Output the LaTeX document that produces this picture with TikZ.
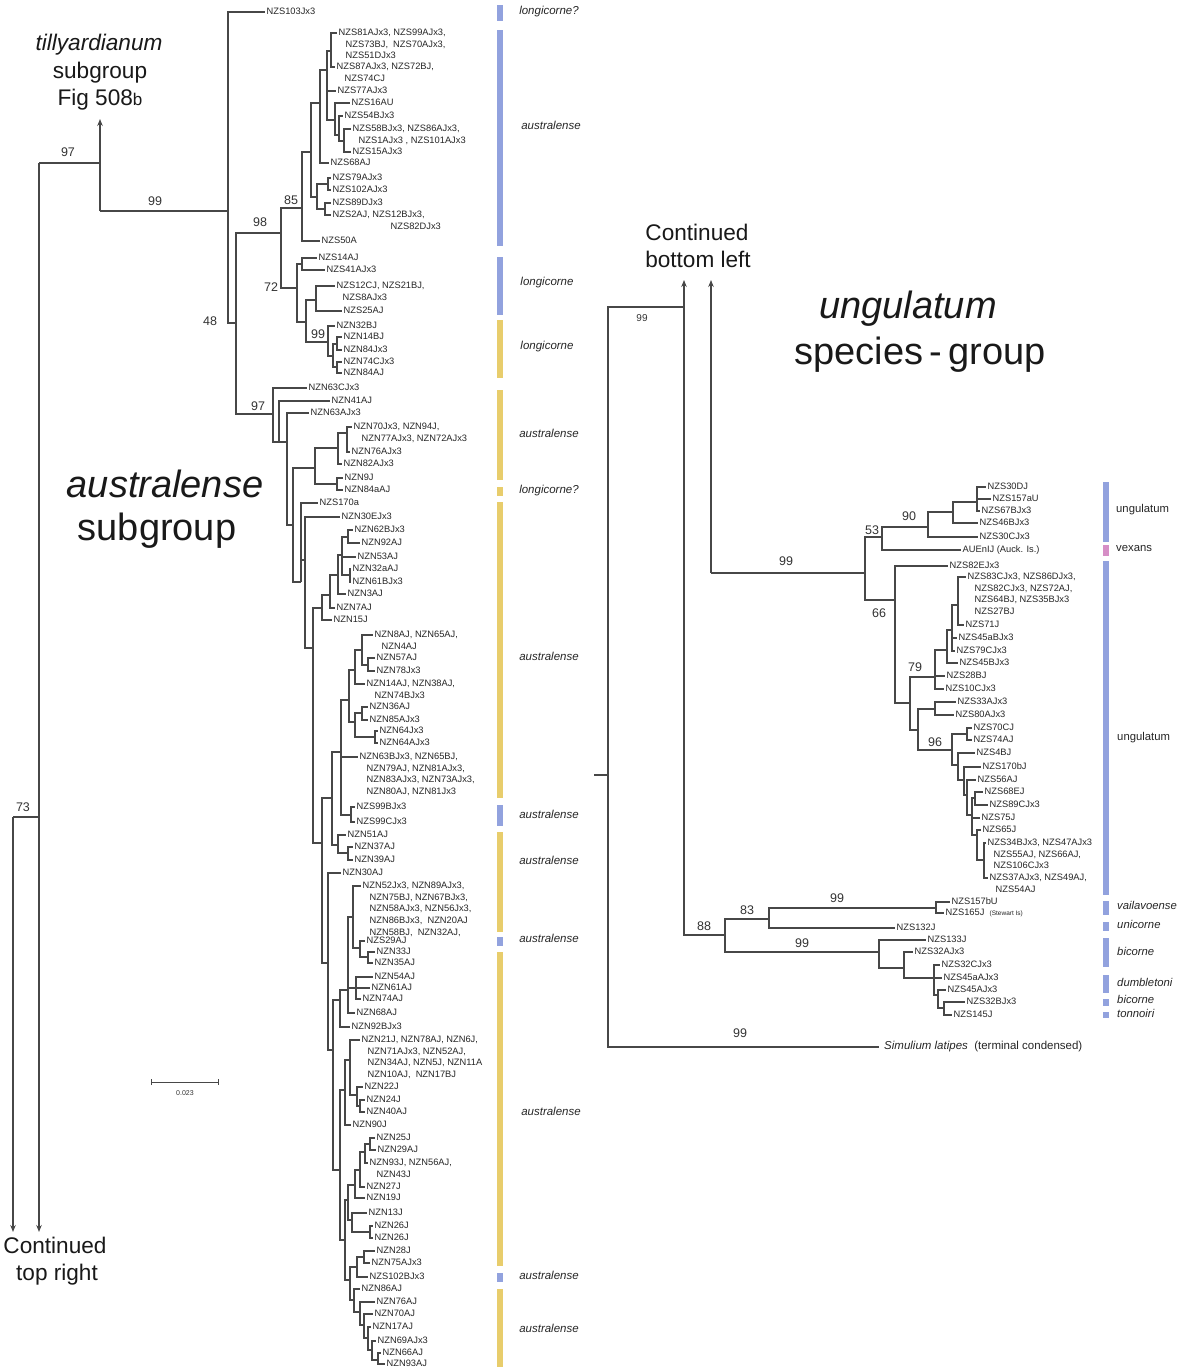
\documentclass[tikz,border=0pt]{standalone}
\usepackage{fontspec}
\setmainfont{Liberation Sans}
\usetikzlibrary{arrows.meta}
\definecolor{barblue}{RGB}{146,162,222}
\definecolor{baryel}{RGB}{232,205,108}
\definecolor{barpink}{RGB}{214,142,198}
\newcommand{\lns}[1]{\begin{tabular}[t]{@{}l@{}}#1\end{tabular}}

\begin{document}
\begin{tikzpicture}[x=1pt,y=-1pt,
    br/.style={draw=black!72,line width=1.2pt},
    cont/.style={br,-{Stealth[length=7pt,width=5.5pt]}},
    taxon/.style={anchor=mid west,inner xsep=1.5pt,inner ysep=0pt,text=black!85,font=\fontsize{9.3}{11.6}\selectfont},
    boot/.style={text=black!80,font=\fontsize{12.5}{14}\selectfont},
    clab/.style={anchor=mid,text=black!85,font=\fontsize{11.5}{13}\selectfont\itshape},
    rlab/.style={anchor=mid west,inner xsep=0pt,text=black!85,font=\fontsize{11.3}{13}\selectfont},
    medtxt/.style={anchor=base,inner sep=0pt,text=black!90,font=\fontsize{22.6}{27}\selectfont},
    bigtxt/.style={anchor=base,inner sep=0pt,text=black!90,font=\fontsize{38}{44}\selectfont}]
\fill[white] (0,0) rectangle (1189,1367);
\useasboundingbox (0,0) rectangle (1189,1367);

% ---- internal nodes, left tree
\coordinate (r97) at (39,163);
\coordinate (r73) at (13,817);
\coordinate (s73) at (39,817);
\coordinate (cL) at (13,1232);
\coordinate (cR) at (39,1232);
\coordinate (t97) at (100,163);
\coordinate (t99) at (100,211);
\coordinate (tup) at (100,119);
\coordinate (nA) at (228,211);
\coordinate (n48) at (236,323);
\coordinate (n98) at (281,233);
\coordinate (n85) at (302,208);
\coordinate (nB) at (311,152);
\coordinate (nC) at (320,103);
\coordinate (nF) at (327,70);
\coordinate (nE) at (331,51);
\coordinate (nG) at (335,120);
\coordinate (nH) at (339,135);
\coordinate (nI) at (344,141);
\coordinate (nJ) at (317,197);
\coordinate (nK) at (328,184);
\coordinate (nL) at (325,209);
\coordinate (n72) at (297,288);
\coordinate (nM) at (302,264);
\coordinate (nN) at (306,322);
\coordinate (nO) at (316,300);
\coordinate (n99) at (328,342);
\coordinate (nP) at (333,356);
\coordinate (nQ) at (337,344);
\coordinate (nR) at (337,367);
\coordinate (n97b) at (273,414);
\coordinate (nS) at (279,442);
\coordinate (nT) at (287,442);
\coordinate (nV) at (293,525);
\coordinate (nW) at (315,468);
\coordinate (nX) at (338,448);
\coordinate (nZ) at (347,433);
\coordinate (nY) at (337,484);
\coordinate (nV2) at (301,582);
\coordinate (nV3) at (305,560);
\coordinate (na7) at (313,648);
\coordinate (na6) at (322,608);
\coordinate (na5) at (330,595);
\coordinate (na4) at (338,575);
\coordinate (na3) at (342,555);
\coordinate (na1) at (348,537);
\coordinate (na2) at (350,575);
\coordinate (nc6) at (322,843);
\coordinate (nc5) at (332,798);
\coordinate (nb9) at (341,752);
\coordinate (nb7) at (349,700);
\coordinate (nb3) at (355,670);
\coordinate (nb2) at (362,650);
\coordinate (nb1) at (368,665);
\coordinate (nb6) at (355,722);
\coordinate (nb4) at (362,713);
\coordinate (nb5) at (375,737);
\coordinate (nc1) at (351,815);
\coordinate (nc4) at (338,845);
\coordinate (nc3) at (348,853);
\coordinate (nc7) at (328,963);
\coordinate (nc8) at (333,1050);
\coordinate (nd7) at (340,1000);
\coordinate (nd6) at (348,990);
\coordinate (nd3) at (353,917);
\coordinate (nd2) at (360,948);
\coordinate (nd1) at (368,957);
\coordinate (nd5) at (356,988);
\coordinate (nm2) at (340,1170);
\coordinate (ne4) at (345,1090);
\coordinate (ne3) at (350,1060);
\coordinate (ne2) at (357,1095);
\coordinate (ne1) at (360,1106);
\coordinate (nm1) at (345,1240);
\coordinate (nf5) at (348,1200);
\coordinate (nf4) at (355,1185);
\coordinate (nf3) at (360,1170);
\coordinate (nf2) at (365,1152);
\coordinate (nf1) at (370,1144);
\coordinate (ng2) at (352,1220);
\coordinate (ng1) at (370,1232);
\coordinate (nl1) at (350,1280);
\coordinate (nh2) at (357,1267);
\coordinate (nh1) at (364,1257);
\coordinate (nk6) at (354,1300);
\coordinate (nk5) at (360,1312);
\coordinate (nk4) at (364,1325);
\coordinate (nk3) at (368,1338);
\coordinate (nk2) at (372,1350);
\coordinate (nk1) at (378,1360);

% ---- internal nodes, right tree
\coordinate (q0) at (594,775);
\coordinate (q1) at (608,775);
\coordinate (q99) at (684,307);
\coordinate (qA) at (684,280);
\coordinate (qs) at (711,573);
\coordinate (qB) at (711,280);
\coordinate (u99) at (865,573);
\coordinate (u53) at (882,537);
\coordinate (u90) at (928,527);
\coordinate (ue1) at (953,512);
\coordinate (ue2) at (977,502);
\coordinate (u66) at (895,600);
\coordinate (uf1) at (910,703);
\coordinate (u79) at (935,677);
\coordinate (ug3) at (947,650);
\coordinate (ug2) at (952,630);
\coordinate (ug1) at (958,605);
\coordinate (uh1) at (918,730);
\coordinate (uh2) at (935,709);
\coordinate (u96) at (952,750);
\coordinate (uh3) at (967,734);
\coordinate (uh4) at (958,765);
\coordinate (uh5) at (964,780);
\coordinate (uh6) at (967,795);
\coordinate (uh7) at (972,815);
\coordinate (uh8) at (975,798);
\coordinate (uh9) at (977,835);
\coordinate (uh10) at (984,860);
\coordinate (q88) at (725,935);
\coordinate (q83) at (769,919);
\coordinate (q99d) at (936,908);
\coordinate (q99c) at (879,952);
\coordinate (qi1) at (904,968);
\coordinate (qi2) at (934,978);
\coordinate (qi3) at (938,995);
\coordinate (qi4) at (944,1008);

% ---- backbone and continuation arrows
\draw[cont] (r97) -- (cR);
\draw[cont] (r73) -- (cL);
\draw[br] (r73) -- (s73);
\draw[br] (r97) -- (t97);
\draw[cont] (t99) -- (tup);
\draw[br] (t99) -- (nA);

% ---- taxa, top NZS group
\node[taxon] (s103) at (265,12) {NZS103Jx3};
\node[taxon] (s81) at (337,33) {\lns{NZS81AJx3, NZS99AJx3,\\\hspace*{7pt}NZS73BJ, \ NZS70AJx3,\\\hspace*{7pt}NZS51DJx3}};
\node[taxon] (s87) at (335,67) {\lns{NZS87AJx3, NZS72BJ,\\\hspace*{8pt}NZS74CJ}};
\node[taxon] (s77) at (336,91) {NZS77AJx3};
\node[taxon] (s16) at (350,103) {NZS16AU};
\node[taxon] (s54) at (343,116) {NZS54BJx3};
\node[taxon] (s58) at (351,129) {\lns{NZS58BJx3, NZS86AJx3,\\\hspace*{6pt}NZS1AJx3 , NZS101AJx3}};
\node[taxon] (s15) at (351,152) {NZS15AJx3};
\node[taxon] (s68) at (329,163) {NZS68AJ};
\node[taxon] (s79) at (331,178) {NZS79AJx3};
\node[taxon] (s102) at (331,190) {NZS102AJx3};
\node[taxon] (s89) at (331,203) {NZS89DJx3};
\node[taxon] (s2) at (331,215) {\lns{NZS2AJ, NZS12BJx3,\\\hspace*{58pt}NZS82DJx3}};
\node[taxon] (s50) at (320,241) {NZS50A};
\node[taxon] (s14) at (317,258) {NZS14AJ};
\node[taxon] (s41) at (325,270) {NZS41AJx3};
\node[taxon] (s12) at (335,286) {\lns{NZS12CJ, NZS21BJ,\\\hspace*{6pt}NZS8AJx3}};
\node[taxon] (s25) at (342,311) {NZS25AJ};
\node[taxon] (z32b) at (335,326) {NZN32BJ};
\node[taxon] (z14b) at (342,337) {NZN14BJ};
\node[taxon] (z84) at (342,350) {NZN84Jx3};
\node[taxon] (z74c) at (342,362) {NZN74CJx3};
\node[taxon] (z84a) at (342,373) {NZN84AJ};

\draw[br] (nA) |- (s103.mid west) (nA) |- (n48);
\draw[br] (n48) |- (n98) (n48) |- (n97b);
\draw[br] (n98) |- (n85) (n98) |- (n72);
\draw[br] (n85) |- (nB) (n85) |- (s50.mid west);
\draw[br] (nB) |- (nC) (nB) |- (nJ);
\draw[br] (nC) |- (nF) (nC) |- (s68.mid west);
\draw[br] (nF) |- (nE) (nF) |- (s77.mid west) (nF) |- (nG);
\draw[br] (nE) |- (s81.mid west) (nE) |- (s87.mid west);
\draw[br] (nG) |- (s16.mid west) (nG) |- (nH);
\draw[br] (nH) |- (s54.mid west) (nH) |- (nI);
\draw[br] (nI) |- (s58.mid west) (nI) |- (s15.mid west);
\draw[br] (nJ) |- (nK) (nJ) |- (nL);
\draw[br] (nK) |- (s79.mid west) (nK) |- (s102.mid west);
\draw[br] (nL) |- (s89.mid west) (nL) |- (s2.mid west);
\draw[br] (n72) |- (nM) (n72) |- (nN);
\draw[br] (nM) |- (s14.mid west) (nM) |- (s41.mid west);
\draw[br] (nN) |- (nO) (nN) |- (n99);
\draw[br] (nO) |- (s12.mid west) (nO) |- (s25.mid west);
\draw[br] (n99) |- (z32b.mid west) (n99) |- (nP);
\draw[br] (nP) |- (nQ) (nP) |- (nR);
\draw[br] (nQ) |- (z14b.mid west) (nQ) |- (z84.mid west);
\draw[br] (nR) |- (z74c.mid west) (nR) |- (z84a.mid west);

% ---- taxa, NZN group
\node[taxon] (z63c) at (307,388) {NZN63CJx3};
\node[taxon] (z41) at (330,401) {NZN41AJ};
\node[taxon] (z63a) at (309,413) {NZN63AJx3};
\node[taxon] (z70) at (352,427) {\lns{NZN70Jx3, NZN94J,\\\hspace*{8pt}NZN77AJx3, NZN72AJx3}};
\node[taxon] (z76) at (350,452) {NZN76AJx3};
\node[taxon] (z82) at (342,464) {NZN82AJx3};
\node[taxon] (z9) at (343,478) {NZN9J};
\node[taxon] (z84b) at (343,490) {NZN84aAJ};
\node[taxon] (s170a) at (318,503) {NZS170a};
\node[taxon] (z30e) at (340,517) {NZN30EJx3};
\node[taxon] (z62b) at (353,530) {NZN62BJx3};
\node[taxon] (z92) at (360,543) {NZN92AJ};
\node[taxon] (z53) at (356,557) {NZN53AJ};
\node[taxon] (z32a) at (351,569) {NZN32aAJ};
\node[taxon] (z61b) at (351,582) {NZN61BJx3};
\node[taxon] (z3) at (346,594) {NZN3AJ};
\node[taxon] (z7) at (335,608) {NZN7AJ};
\node[taxon] (z15) at (332,620) {NZN15J};

\draw[br] (n97b) |- (z63c.mid west) (n97b) |- (nS);
\draw[br] (nS) |- (z41.mid west) (nS) |- (nT);
\draw[br] (nT) |- (z63a.mid west) (nT) |- (nV);
\draw[br] (nV) |- (nW) (nV) |- (nV2);
\draw[br] (nW) |- (nX) (nW) |- (nY);
\draw[br] (nX) |- (nZ) (nX) |- (z82.mid west);
\draw[br] (nZ) |- (z70.mid west) (nZ) |- (z76.mid west);
\draw[br] (nY) |- (z9.mid west) (nY) |- (z84b.mid west);
\draw[br] (nV2) |- (s170a.mid west) (nV2) |- (nV3);
\draw[br] (nV3) |- (z30e.mid west) (nV3) |- (na7);
\draw[br] (na7) |- (na6) (na7) |- (nc6);
\draw[br] (na6) |- (na5) (na6) |- (z15.mid west);
\draw[br] (na5) |- (na4) (na5) |- (z7.mid west);
\draw[br] (na4) |- (na3) (na4) |- (z3.mid west);
\draw[br] (na3) |- (na1) (na3) |- (z53.mid west) (na3) |- (na2);
\draw[br] (na1) |- (z62b.mid west) (na1) |- (z92.mid west);
\draw[br] (na2) |- (z32a.mid west) (na2) |- (z61b.mid west);

\node[taxon] (z8) at (373,635) {\lns{NZN8AJ, NZN65AJ,\\\hspace*{7pt}NZN4AJ}};
\node[taxon] (z57) at (375,658) {NZN57AJ};
\node[taxon] (z78) at (375,671) {NZN78Jx3};
\node[taxon] (z14a) at (365,684) {\lns{NZN14AJ, NZN38AJ,\\\hspace*{8pt}NZN74BJx3}};
\node[taxon] (z36) at (368,707) {NZN36AJ};
\node[taxon] (z85) at (368,720) {NZN85AJx3};
\node[taxon] (z64) at (378,731) {NZN64Jx3};
\node[taxon] (z64a) at (378,743) {NZN64AJx3};
\node[taxon] (z63b) at (358,757) {\lns{NZN63BJx3, NZN65BJ,\\\hspace*{7pt}NZN79AJ, NZN81AJx3,\\\hspace*{7pt}NZN83AJx3, NZN73AJx3,\\\hspace*{7pt}NZN80AJ, NZN81Jx3}};
\node[taxon] (s99b) at (355,807) {NZS99BJx3};
\node[taxon] (s99c) at (355,822) {NZS99CJx3};
\node[taxon] (z51) at (346,835) {NZN51AJ};
\node[taxon] (z37) at (353,847) {NZN37AJ};
\node[taxon] (z39) at (353,860) {NZN39AJ};

\draw[br] (nc6) |- (nc5) (nc6) |- (nc7);
\draw[br] (nc5) |- (nb9) (nc5) |- (nc4);
\draw[br] (nb9) |- (nb7) (nb9) |- (z63b.mid west) (nb9) |- (nc1);
\draw[br] (nb7) |- (nb3) (nb7) |- (nb6);
\draw[br] (nb3) |- (nb2) (nb3) |- (z14a.mid west);
\draw[br] (nb2) |- (z8.mid west) (nb2) |- (nb1);
\draw[br] (nb1) |- (z57.mid west) (nb1) |- (z78.mid west);
\draw[br] (nb6) |- (nb4) (nb6) |- (nb5);
\draw[br] (nb4) |- (z36.mid west) (nb4) |- (z85.mid west);
\draw[br] (nb5) |- (z64.mid west) (nb5) |- (z64a.mid west);
\draw[br] (nc1) |- (s99b.mid west) (nc1) |- (s99c.mid west);
\draw[br] (nc4) |- (z51.mid west) (nc4) |- (nc3);
\draw[br] (nc3) |- (z37.mid west) (nc3) |- (z39.mid west);

\node[taxon] (z30) at (341,873) {NZN30AJ};
\node[taxon] (z52) at (361,886) {\lns{NZN52Jx3, NZN89AJx3,\\\hspace*{7pt}NZN75BJ, NZN67BJx3,\\\hspace*{7pt}NZN58AJx3, NZN56Jx3,\\\hspace*{7pt}NZN86BJx3, \ NZN20AJ\\\hspace*{7pt}NZN58BJ, \ NZN32AJ,}};
\node[taxon] (s29) at (365,941) {NZS29AJ};
\node[taxon] (z33) at (375,952) {NZN33J};
\node[taxon] (z35) at (373,963) {NZN35AJ};
\node[taxon] (z54) at (373,977) {NZN54AJ};
\node[taxon] (z61) at (370,988) {NZN61AJ};
\node[taxon] (z74) at (361,999) {NZN74AJ};
\node[taxon] (z68) at (355,1013) {NZN68AJ};
\node[taxon] (z92b) at (350,1027) {NZN92BJx3};

\draw[br] (nc7) |- (z30.mid west) (nc7) |- (nc8);
\draw[br] (nc8) |- (nd7) (nc8) |- (nm2);
\draw[br] (nd7) |- (nd6) (nd7) |- (z92b.mid west);
\draw[br] (nd6) |- (nd3) (nd6) |- (nd5) (nd6) |- (z68.mid west);
\draw[br] (nd3) |- (z52.mid west) (nd3) |- (nd2);
\draw[br] (nd2) |- (s29.mid west) (nd2) |- (nd1);
\draw[br] (nd1) |- (z33.mid west) (nd1) |- (z35.mid west);
\draw[br] (nd5) |- (z54.mid west) (nd5) |- (z61.mid west) (nd5) |- (z74.mid west);

\node[taxon] (z21) at (360,1040) {\lns{NZN21J, NZN78AJ, NZN6J,\\\hspace*{6pt}NZN71AJx3, NZN52AJ,\\\hspace*{6pt}NZN34AJ, NZN5J, NZN11A\\\hspace*{6pt}NZN10AJ, \ NZN17BJ}};
\node[taxon] (z22) at (363,1087) {NZN22J};
\node[taxon] (z24) at (365,1100) {NZN24J};
\node[taxon] (z40) at (365,1112) {NZN40AJ};
\node[taxon] (z90) at (351,1125) {NZN90J};
\node[taxon] (z25) at (375,1138) {NZN25J};
\node[taxon] (z29) at (376,1150) {NZN29AJ};
\node[taxon] (z93) at (368,1163) {\lns{NZN93J, NZN56AJ,\\\hspace*{7pt}NZN43J}};
\node[taxon] (z27) at (365,1187) {NZN27J};
\node[taxon] (z19) at (365,1198) {NZN19J};
\node[taxon] (z13) at (367,1213) {NZN13J};
\node[taxon] (z26) at (373,1226) {NZN26J};
\node[taxon] (z26b) at (373,1238) {NZN26J};
\node[taxon] (z28) at (375,1251) {NZN28J};
\node[taxon] (z75) at (370,1263) {NZN75AJx3};
\node[taxon] (s102b) at (368,1277) {NZS102BJx3};
\node[taxon] (z86) at (360,1289) {NZN86AJ};
\node[taxon] (z76a) at (375,1302) {NZN76AJ};
\node[taxon] (z70a) at (373,1314) {NZN70AJ};
\node[taxon] (z17) at (371,1327) {NZN17AJ};
\node[taxon] (z69) at (376,1341) {NZN69AJx3};
\node[taxon] (z66) at (381,1353) {NZN66AJ};
\node[taxon] (z93a) at (385,1364) {NZN93AJ};

\draw[br] (nm2) |- (ne4) (nm2) |- (nm1);
\draw[br] (ne4) |- (ne3) (ne4) |- (z90.mid west);
\draw[br] (ne3) |- (z21.mid west) (ne3) |- (ne2);
\draw[br] (ne2) |- (z22.mid west) (ne2) |- (ne1);
\draw[br] (ne1) |- (z24.mid west) (ne1) |- (z40.mid west);
\draw[br] (nm1) |- (nf5) (nm1) |- (nl1);
\draw[br] (nf5) |- (nf4) (nf5) |- (ng2);
\draw[br] (nf4) |- (nf3) (nf4) |- (z19.mid west);
\draw[br] (nf3) |- (nf2) (nf3) |- (z27.mid west);
\draw[br] (nf2) |- (nf1) (nf2) |- (z93.mid west);
\draw[br] (nf1) |- (z25.mid west) (nf1) |- (z29.mid west);
\draw[br] (ng2) |- (z13.mid west) (ng2) |- (ng1);
\draw[br] (ng1) |- (z26.mid west) (ng1) |- (z26b.mid west);
\draw[br] (nl1) |- (nh2) (nl1) |- (nk6);
\draw[br] (nh2) |- (nh1) (nh2) |- (s102b.mid west);
\draw[br] (nh1) |- (z28.mid west) (nh1) |- (z75.mid west);
\draw[br] (nk6) |- (z86.mid west) (nk6) |- (nk5);
\draw[br] (nk5) |- (z76a.mid west) (nk5) |- (nk4);
\draw[br] (nk4) |- (z70a.mid west) (nk4) |- (nk3);
\draw[br] (nk3) |- (z17.mid west) (nk3) |- (nk2);
\draw[br] (nk2) |- (z69.mid west) (nk2) |- (nk1);
\draw[br] (nk1) |- (z66.mid west) (nk1) |- (z93a.mid west);

% ---- right tree
\node[taxon] (u30d) at (986,487) {NZS30DJ};
\node[taxon] (u157) at (991,499) {NZS157aU};
\node[taxon] (u67) at (980,511) {NZS67BJx3};
\node[taxon] (u46) at (978,523) {NZS46BJx3};
\node[taxon] (u30c) at (978,537) {NZS30CJx3};
\node[taxon] (aue) at (961,550) {AUEnIJ (Auck. Is.)};
\node[taxon] (u82e) at (948,566) {NZS82EJx3};
\node[taxon] (u83) at (966,577) {\lns{NZS83CJx3, NZS86DJx3,\\\hspace*{7pt}NZS82CJx3, NZS72AJ,\\\hspace*{7pt}NZS64BJ, NZS35BJx3\\\hspace*{7pt}NZS27BJ}};
\node[taxon] (u71) at (964,625) {NZS71J};
\node[taxon] (u45a) at (957,638) {NZS45aBJx3};
\node[taxon] (u79c) at (955,651) {NZS79CJx3};
\node[taxon] (u45b) at (958,663) {NZS45BJx3};
\node[taxon] (u28) at (945,676) {NZS28BJ};
\node[taxon] (u10) at (944,689) {NZS10CJx3};
\node[taxon] (u33) at (956,702) {NZS33AJx3};
\node[taxon] (u80) at (954,715) {NZS80AJx3};
\node[taxon] (u70) at (972,728) {NZS70CJ};
\node[taxon] (u74) at (972,740) {NZS74AJ};
\node[taxon] (u4) at (975,753) {NZS4BJ};
\node[taxon] (u170) at (981,767) {NZS170bJ};
\node[taxon] (u56) at (976,780) {NZS56AJ};
\node[taxon] (u68) at (983,792) {NZS68EJ};
\node[taxon] (u89) at (988,805) {NZS89CJx3};
\node[taxon] (u75) at (980,818) {NZS75J};
\node[taxon] (u65) at (981,830) {NZS65J};
\node[taxon] (u34) at (986,843) {\lns{NZS34BJx3, NZS47AJx3\\\hspace*{6pt}NZS55AJ, NZS66AJ,\\\hspace*{6pt}NZS106CJx3}};
\node[taxon] (u37) at (988,878) {\lns{NZS37AJx3, NZS49AJ,\\\hspace*{6pt}NZS54AJ}};
\node[taxon] (u157b) at (950,902) {NZS157bU};
\node[taxon] (u165) at (944,913) {NZS165J \ {\fontsize{6.5}{8}\selectfont(Stewart Is)}};
\node[taxon] (u132) at (895,928) {NZS132J};
\node[taxon] (u133) at (926,940) {NZS133J};
\node[taxon] (u32a) at (913,952) {NZS32AJx3};
\node[taxon] (u32c) at (940,965) {NZS32CJx3};
\node[taxon] (u45aa) at (942,978) {NZS45aAJx3};
\node[taxon] (u45aj) at (946,990) {NZS45AJx3};
\node[taxon] (u32b) at (965,1002) {NZS32BJx3};
\node[taxon] (u145) at (952,1015) {NZS145J};
\node[taxon,inner xsep=5pt,font=\fontsize{11.5}{13}\selectfont] (sim) at (879,1047) {\textit{Simulium latipes}\ \ (terminal condensed)};

\draw[br] (q0) -- (q1);
\draw[br] (q1) |- (q99) (q1) |- (sim.mid west);
\draw[cont] (q99) -- (qA);
\draw[br] (q99) |- (q88);
\draw[cont] (qs) -- (qB);
\draw[br] (qs) -- (u99);
\draw[br] (u99) |- (u53) (u99) |- (u66);
\draw[br] (u53) |- (u90) (u53) |- (aue.mid west);
\draw[br] (u90) |- (ue1) (u90) |- (u30c.mid west);
\draw[br] (ue1) |- (ue2) (ue1) |- (u46.mid west);
\draw[br] (ue2) |- (u30d.mid west) (ue2) |- (u157.mid west) (ue2) |- (u67.mid west);
\draw[br] (u66) |- (u82e.mid west) (u66) |- (uf1);
\draw[br] (uf1) |- (u79) (uf1) |- (uh1);
\draw[br] (u79) |- (ug3) (u79) |- (u28.mid west) (u79) |- (u10.mid west);
\draw[br] (ug3) |- (ug2) (ug3) |- (u45b.mid west);
\draw[br] (ug2) |- (ug1) (ug2) |- (u45a.mid west) (ug2) |- (u79c.mid west);
\draw[br] (ug1) |- (u83.mid west) (ug1) |- (u71.mid west);
\draw[br] (uh1) |- (uh2) (uh1) |- (u96);
\draw[br] (uh2) |- (u33.mid west) (uh2) |- (u80.mid west);
\draw[br] (u96) |- (uh3) (u96) |- (uh4);
\draw[br] (uh3) |- (u70.mid west) (uh3) |- (u74.mid west);
\draw[br] (uh4) |- (u4.mid west) (uh4) |- (uh5);
\draw[br] (uh5) |- (u170.mid west) (uh5) |- (uh6);
\draw[br] (uh6) |- (u56.mid west) (uh6) |- (uh7);
\draw[br] (uh7) |- (uh8) (uh7) |- (u75.mid west) (uh7) |- (uh9);
\draw[br] (uh8) |- (u68.mid west) (uh8) |- (u89.mid west);
\draw[br] (uh9) |- (u65.mid west) (uh9) |- (uh10);
\draw[br] (uh10) |- (u34.mid west) (uh10) |- (u37.mid west);
\draw[br] (q88) |- (q83) (q88) |- (q99c);
\draw[br] (q83) |- (q99d) (q83) |- (u132.mid west);
\draw[br] (q99d) |- (u157b.mid west) (q99d) |- (u165.mid west);
\draw[br] (q99c) |- (u133.mid west) (q99c) |- (qi1);
\draw[br] (qi1) |- (u32a.mid west) (qi1) |- (qi2);
\draw[br] (qi2) |- (u32c.mid west) (qi2) |- (u45aa.mid west) (qi2) |- (qi3);
\draw[br] (qi3) |- (u45aj.mid west) (qi3) |- (qi4);
\draw[br] (qi4) |- (u32b.mid west) (qi4) |- (u145.mid west);

% ---- bootstrap values
\node[boot] (b97) at (68,152) {97};
\node[boot] (b99t) at (155,201) {99};
\node[boot] (b73) at (23,807) {73};
\node[boot] (b48) at (210,321) {48};
\node[boot] (b98) at (260,222) {98};
\node[boot] (b85) at (291,200) {85};
\node[boot] (b72) at (271,287) {72};
\node[boot] (b99n) at (318,334) {99};
\node[boot] (b97n) at (258,406) {97};
\node[boot,font=\fontsize{10}{12}\selectfont] (b99r) at (642,318) {99};
\node[boot] (b99u) at (786,561) {99};
\node[boot] (b53) at (872,530) {53};
\node[boot] (b90) at (909,516) {90};
\node[boot] (b66) at (879,613) {66};
\node[boot] (b79) at (915,667) {79};
\node[boot] (b96) at (935,742) {96};
\node[boot] (b88) at (704,926) {88};
\node[boot] (b83) at (747,910) {83};
\node[boot] (b99v) at (837,898) {99};
\node[boot] (b99b) at (802,943) {99};
\node[boot] (b99s) at (740,1033) {99};

% ---- clade bars, left
\fill[barblue] (497,5) rectangle (503,21);
\fill[barblue] (497,30) rectangle (503,246);
\fill[barblue] (497,257) rectangle (503,315);
\fill[baryel] (497,320) rectangle (503,378);
\fill[baryel] (497,390) rectangle (503,480);
\fill[baryel] (497,487) rectangle (503,496);
\fill[baryel] (497,502) rectangle (503,798);
\fill[barblue] (497,805) rectangle (503,826);
\fill[baryel] (497,832) rectangle (503,932);
\fill[barblue] (497,937) rectangle (503,946);
\fill[baryel] (497,952) rectangle (503,1266);
\fill[barblue] (497,1273) rectangle (503,1282);
\fill[baryel] (497,1289) rectangle (503,1370);
\node[clab] (k1) at (549,12) {longicorne?};
\node[clab] (k2) at (551,127) {australense};
\node[clab] (k3) at (547,283) {longicorne};
\node[clab] (k4) at (547,347) {longicorne};
\node[clab] (k5) at (549,435) {australense};
\node[clab] (k6) at (549,491) {longicorne?};
\node[clab] (k7) at (549,658) {australense};
\node[clab] (k8) at (549,816) {australense};
\node[clab] (k9) at (549,862) {australense};
\node[clab] (k10) at (549,940) {australense};
\node[clab] (k11) at (551,1113) {australense};
\node[clab] (k12) at (549,1277) {australense};
\node[clab] (k13) at (549,1330) {australense};

% ---- clade bars, right
\fill[barblue] (1103,482) rectangle (1109,542);
\fill[barpink] (1103,545) rectangle (1109,556);
\fill[barblue] (1103,561) rectangle (1109,895);
\fill[barblue] (1103,901) rectangle (1109,915);
\fill[barblue] (1103,922) rectangle (1109,931);
\fill[barblue] (1103,938) rectangle (1109,967);
\fill[barblue] (1103,975) rectangle (1109,993);
\fill[barblue] (1103,999) rectangle (1109,1006);
\fill[barblue] (1103,1012) rectangle (1109,1018);
\node[rlab] (r1) at (1116,510) {ungulatum};
\node[rlab] (r2) at (1116,549) {vexans};
\node[rlab] (r3) at (1117,738) {ungulatum};
\node[rlab] (r4) at (1117,907) {\itshape vailavoense};
\node[rlab] (r5) at (1117,926) {\itshape unicorne};
\node[rlab] (r6) at (1117,953) {\itshape bicorne};
\node[rlab] (r7) at (1117,984) {\itshape dumbletoni};
\node[rlab] (r8) at (1117,1001) {\itshape bicorne};
\node[rlab] (r9) at (1117,1015) {\itshape tonnoiri};

% ---- group titles and notes
\node[medtxt] (tl1) at (99,51) {\itshape tillyardianum};
\node[medtxt] (tl2) at (100,79) {subgroup};
\node[medtxt] (tl3) at (100,106) {Fig 508{\fontsize{17}{20}\selectfont b}};
\node[bigtxt] (au1) at (165,497) {\itshape australense};
\node[bigtxt] (au2) at (157,540) {subgroup};
\node[medtxt] (co1) at (55,1253) {Continued};
\node[medtxt] (co2) at (57,1280) {top right};
\node[medtxt] (co3) at (697,240) {Continued};
\node[medtxt] (co4) at (698,267) {bottom left};
\node[bigtxt] (un1) at (908,318) {\itshape ungulatum};
\node[bigtxt] (un2) at (920,364) {species\,-\,group};

% ---- scale bar
\coordinate (sb1) at (151,1082);
\coordinate (sb2) at (219,1082);
\draw[draw=black!72,line width=1pt,{Bar[width=6pt]}-{Bar[width=6pt]}] (sb1) -- (sb2);
\node[text=black!80,font=\fontsize{7}{8}\selectfont] (sbl) at (185,1093) {0.023};
\end{tikzpicture}
\end{document}
